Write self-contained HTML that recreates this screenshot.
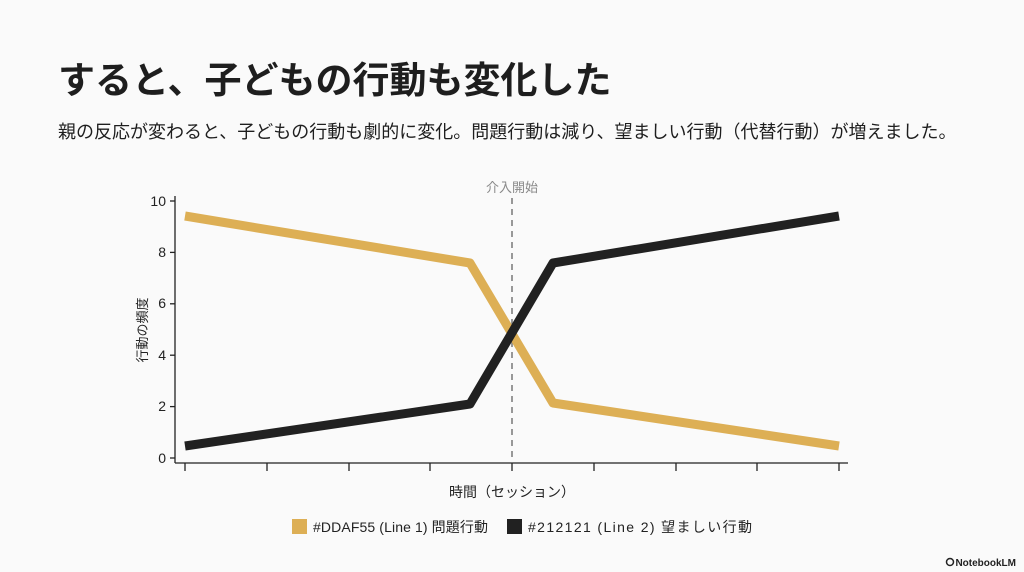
<!DOCTYPE html>
<html><head><meta charset="utf-8"><style>
body{margin:0;width:1024px;height:572px;background:#fafafa;font-family:"Liberation Sans","Noto Sans CJK JP",sans-serif;overflow:hidden;position:relative;color:#1e1e1e}
h1{position:absolute;left:58px;top:50px;margin:0;font-size:37px;font-weight:bold;font-family:"Noto Sans CJK JP",sans-serif}
.sub{position:absolute;left:58px;top:118px;font-size:18px;font-family:"Noto Sans CJK JP",sans-serif}
svg{position:absolute;left:0;top:0}
svg text{font-family:"Liberation Sans","Noto Sans CJK JP",sans-serif}
</style></head><body>
<h1>すると、子どもの行動も変化した</h1>
<div class="sub">親の反応が変わると、子どもの行動も劇的に変化。問題行動は減り、望ましい行動（代替行動）が増えました。</div>
<svg width="1024" height="572">
<g stroke="#222" stroke-width="1.3" fill="none">
<line x1="175" y1="196" x2="175" y2="463"/>
<line x1="175" y1="463" x2="848" y2="463"/>
<line x1="170" y1="201" x2="175" y2="201"/><line x1="170" y1="252.4" x2="175" y2="252.4"/><line x1="170" y1="303.8" x2="175" y2="303.8"/><line x1="170" y1="355.2" x2="175" y2="355.2"/><line x1="170" y1="406.6" x2="175" y2="406.6"/><line x1="170" y1="458" x2="175" y2="458"/>
<line x1="185" y1="463" x2="185" y2="471"/><line x1="267" y1="463" x2="267" y2="471"/><line x1="349" y1="463" x2="349" y2="471"/><line x1="430" y1="463" x2="430" y2="471"/><line x1="512" y1="463" x2="512" y2="471"/><line x1="594" y1="463" x2="594" y2="471"/><line x1="676" y1="463" x2="676" y2="471"/><line x1="757" y1="463" x2="757" y2="471"/><line x1="839" y1="463" x2="839" y2="471"/>
</g>
<g font-size="14" fill="#222" text-anchor="end">
<text x="166" y="206">10</text><text x="166" y="257">8</text><text x="166" y="308">6</text><text x="166" y="360">4</text><text x="166" y="411">2</text><text x="166" y="463">0</text>
</g>
<line x1="512" y1="198" x2="512" y2="463" stroke="#777" stroke-width="1.5" stroke-dasharray="6,5"/>
<text x="512" y="192" font-size="13" fill="#888" text-anchor="middle">介入開始</text>
<text transform="translate(147,330) rotate(-90)" font-size="13" fill="#222" text-anchor="middle">行動の頻度</text>
<text x="512" y="497" font-size="14" fill="#222" text-anchor="middle">時間（セッション）</text>
<polyline points="185,216 470,263 553,403 839,446" fill="none" stroke="#DDAF55" stroke-width="9" stroke-linejoin="round"/>
<polyline points="185,446 470,404 553,263 839,216" fill="none" stroke="#212121" stroke-width="9" stroke-linejoin="round"/>
<rect x="292" y="519" width="15" height="15" fill="#DDAF55"/>
<text x="313" y="532" font-size="14" fill="#222" textLength="175">#DDAF55 (Line 1) 問題行動</text>
<rect x="507" y="519" width="15" height="15" fill="#212121"/>
<text x="528" y="532" font-size="14" fill="#222" textLength="224">#212121 (Line 2) 望ましい行動</text>
<text x="1016" y="566" font-size="10" font-weight="bold" fill="#222" text-anchor="end">NotebookLM</text>
<circle cx="950" cy="562" r="3.5" fill="none" stroke="#222" stroke-width="1.5"/>
</svg>
</body></html>
